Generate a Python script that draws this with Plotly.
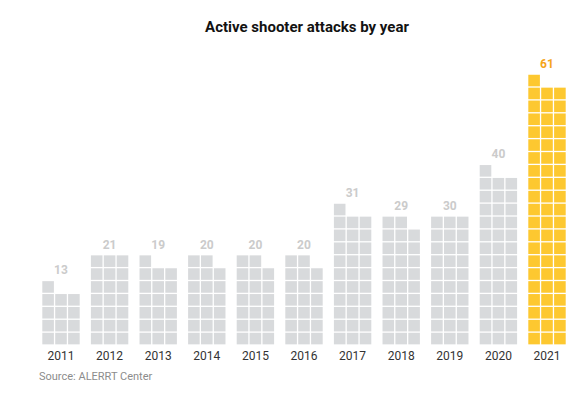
import plotly.graph_objects as go
import math

years = ["2011", "2012", "2013", "2014", "2015", "2016", "2017", "2018", "2019", "2020", "2021"]
attacks = [13, 21, 19, 20, 20, 20, 31, 29, 30, 40, 61]
highlight_year = "2021"

COLS = 3
GRAY = "#d8dadc"
YELLOW = "#fdc830"
LABEL_GRAY = "#cbcbcb"
LABEL_ORANGE = "#f5a51b"
COL_STEP = 12.9 / 48.6  # column pitch in group units
OFF = 8  # page body margin

fig = go.Figure()

for i, (yr, v) in enumerate(zip(years, attacks)):
    xs, ys = [], []
    for k in range(v):
        r, c = divmod(k, COLS)
        xs.append(i + (c - 1) * COL_STEP)
        ys.append(r)
    hi = yr == highlight_year
    fig.add_trace(go.Scatter(
        x=xs, y=ys, mode="markers",
        marker=dict(symbol="square", size=11.6, color=YELLOW if hi else GRAY,
                    line=dict(width=0)),
        hoverinfo="skip", showlegend=False,
    ))
    top_row = math.ceil(v / COLS) - 1
    fig.add_trace(go.Scatter(
        x=[i], y=[top_row + 1.2], mode="text", text=[str(v)],
        textposition="middle center",
        textfont=dict(family="Roboto", size=12, color=LABEL_ORANGE if hi else LABEL_GRAY,
                      weight="bold"),
        hoverinfo="skip", showlegend=False,
    ))

x0 = 61 - OFF
bottom = 347 - OFF
fig.update_layout(
    width=579, height=393,
    margin=dict(l=0, r=0, t=0, b=393 - bottom),
    paper_bgcolor="white", plot_bgcolor="white",
    title=dict(text="<b>Active shooter attacks by year</b>", x=(307 - OFF) / 579, xanchor="center",
               y=1 - (27 - OFF) / 393, yanchor="middle",
               font=dict(family="Roboto", size=15, color="#121212")),
    xaxis=dict(range=[-x0 / 48.6, (579 - x0) / 48.6], tickmode="array",
               tickvals=list(range(len(years))), ticktext=years,
               showgrid=False, zeroline=False, showline=False, ticks="",
               tickfont=dict(family="Roboto", size=12, color="#333333")),
    yaxis=dict(range=[(bottom - 2 - bottom) / 12.9 - 0.5 + 0, (bottom - 2) / 12.9 - 0.5], visible=False),
    annotations=[dict(text="Source: ALERRT Center", xref="paper", yref="paper",
                      x=(37 - OFF) / 579, y=-(376 - 347) / bottom, xanchor="left", yanchor="middle",
                      showarrow=False, font=dict(family="Roboto", size=11, color="#8c8c8c"))],
)

fig.write_html("out.html")
